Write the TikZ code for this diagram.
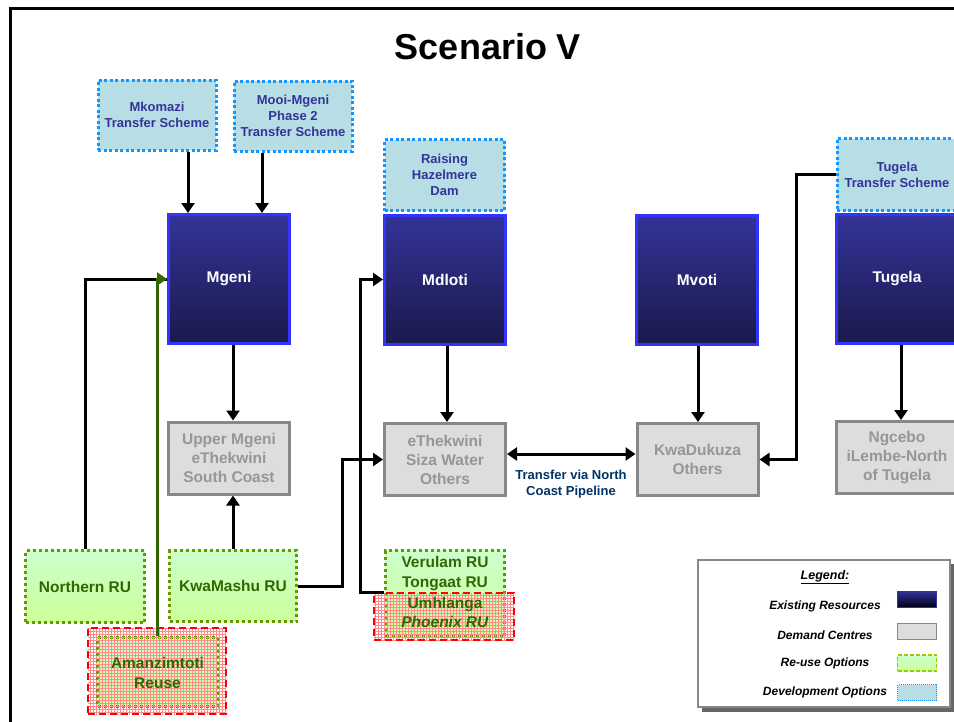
\documentclass[tikz,border=0pt]{standalone}
\usepackage{fontspec}
\setmainfont{Liberation Sans}
\usetikzlibrary{arrows.meta,patterns,calc}
\definecolor{devfill}{RGB}{183,222,228}
\definecolor{devborder}{RGB}{20,150,255}
\definecolor{devtext}{RGB}{51,51,153}
\definecolor{resborder}{RGB}{51,51,255}
\definecolor{restop}{RGB}{51,51,153}
\definecolor{resbot}{RGB}{26,26,77}
\definecolor{demfill}{RGB}{221,221,221}
\definecolor{demborder}{RGB}{136,136,136}
\definecolor{demtext}{RGB}{150,150,150}
\definecolor{retop}{RGB}{204,255,204}
\definecolor{rebot}{RGB}{204,255,153}
\definecolor{reborder}{RGB}{102,153,0}
\definecolor{retext}{RGB}{51,102,0}
\definecolor{greenline}{RGB}{51,102,0}
\definecolor{pinkgrid}{RGB}{255,140,140}
\definecolor{labelblue}{RGB}{0,51,102}
\definecolor{legswre}{RGB}{153,204,0}
\tikzset{
  box/.style={rectangle, inner sep=0pt, align=center},
  devbox/.style={box, draw=devborder, line width=3pt, dash pattern=on 3pt off 2.5pt, fill=devfill, text=devtext, font=\fontsize{13}{16}\selectfont\bfseries, minimum width=118pt, minimum height=70pt},
  resbox/.style={box, draw=resborder, line width=3pt, top color=restop, bottom color=resbot, text=white, font=\fontsize{15.5}{19}\selectfont\bfseries, minimum width=121pt, minimum height=129pt},
  dembox/.style={box, draw=demborder, line width=3pt, fill=demfill, text=demtext, font=\fontsize{15.5}{19}\selectfont\bfseries, minimum width=121pt, minimum height=72pt},
  rebox/.style={box, draw=reborder, line width=3pt, dash pattern=on 3pt off 3pt, top color=retop, bottom color=rebot, text=retext, font=\fontsize{15.5}{19.5}\selectfont\bfseries},
  retxt/.style={box, text=retext, font=\fontsize{15.5}{19.5}\selectfont\bfseries},
  redbox/.style={rectangle, inner sep=0pt, draw=red, line width=2pt, dash pattern=on 7pt off 4pt, pattern=grid, pattern color=pinkgrid},
  conn/.style={line width=3pt, -{Triangle[length=10pt,width=13pt]}},
  legtxt/.style={font=\fontsize{12}{14}\selectfont\bfseries\itshape},
  swatch/.style={rectangle, inner sep=0pt, minimum width=39pt, minimum height=16pt}
}
\begin{document}
\begin{tikzpicture}[x=1pt,y=-1pt]
\useasboundingbox (0,0) rectangle (954,721);
% frame
\draw[line width=3pt] (10,730) -- (10,8.5) -- (960,8.5);
\node[font=\fontsize{36}{40}\selectfont\bfseries] (title) at (488,47) {Scenario V};

% development options
\node[devbox] (mkomazi) at (157,115) {Mkomazi\\Transfer Scheme};
\node[devbox] (mooi) at (293,116) {Mooi-Mgeni\\Phase 2\\Transfer Scheme};
\node[devbox, minimum width=120pt, minimum height=71pt] (hazel) at (444.5,175) {Raising\\Hazelmere\\Dam};
\node[devbox, minimum width=120pt, minimum height=72pt] (tugts) at (897,174.5) {Tugela\\Transfer Scheme};

% existing resources
\node[resbox] (mgeni) at (229,279) {Mgeni};
\node[resbox] (mdloti) at (445,279.5) {Mdloti};
\node[resbox] (mvoti) at (697,279.5) {Mvoti};
\node[resbox] (tugela) at (897,279) {Tugela};

% demand centres
\node[dembox] (upper) at (229,458) {Upper Mgeni\\eThekwini\\South Coast};
\node[dembox] (ethek) at (445,459.5) {eThekwini\\Siza Water\\Others};
\node[dembox] (kwadu) at (697.5,459.5) {KwaDukuza\\Others};
\node[dembox] (ngcebo) at (897,457.5) {Ngcebo\\iLembe-North\\of Tugela};

% re-use options
\node[rebox, minimum width=119pt, minimum height=72pt] (northern) at (85,586.5) {Northern RU};
\node[rebox, minimum width=127pt, minimum height=71pt] (kwamashu) at (233,586) {KwaMashu RU};
\node[rebox, minimum width=119pt, minimum height=86pt] (verulam) at (445,593.5) {};
\node[retxt] (verutxt) at (445,573.5) {Verulam RU\\Tongaat RU};
\node[redbox, minimum width=140pt, minimum height=47pt] (umh) at (444,616.5) {};
\node[retxt] (umhtxt) at (445,612.5) {Umhlanga\\\textit{Phoenix RU}};

\node[redbox, minimum width=138pt, minimum height=86pt] (amred) at (157,671) {};
\node[rebox, minimum width=120pt, minimum height=69pt, postaction={pattern=grid, pattern color=pinkgrid}] (amin) at (157.5,672) {};
\node[retxt] (amtxt) at (157.5,673) {Amanzimtoti\\Reuse};

% connectors
\coordinate (c1) at ($(mkomazi.south)+(31,0)$);
\coordinate (c2) at ($(mooi.south)+(-31,0)$);
\draw[conn] (c1) -- (c1 |- mgeni.north);
\draw[conn] (c2) -- (c2 |- mgeni.north);
\draw[conn] (mgeni.south -| kwamashu.north) -- (upper.north -| kwamashu.north);
\draw[conn] (kwamashu.north) -- (upper.south -| kwamashu.north);
\coordinate (c3) at ($(mdloti.south)+(2,0)$);
\draw[conn] (c3) -- (c3 |- ethek.north);
\coordinate (c5) at ($(mvoti.south)+(1,0)$);
\draw[conn] (c5) -- (c5 |- kwadu.north);
\coordinate (c4) at ($(tugela.south)+(4,0)$);
\draw[conn] (c4) -- (c4 |- ngcebo.north);
\draw[line width=3pt, {Triangle[length=10pt,width=13pt]}-{Triangle[length=10pt,width=13pt]}] ([yshift=5.5pt]ethek.east) -- ([yshift=5.5pt]kwadu.west);
\draw[conn] (tugts.west) -- ++(-39,0) |- (kwadu.east);
\draw[conn] (kwamashu.east) -- ++(44,0) |- (ethek.west);
\draw[conn] (verulam.west |- umh.north) -- ++(-24,0) |- (mdloti.west);
\draw[line width=3pt] (northern.north) |- (mgeni.west);
\draw[conn, draw=greenline, line width=2.5pt] (amin.north) |- (mgeni.west);

\node[font=\fontsize{13}{16.5}\selectfont\bfseries, text=labelblue, align=center] (tlabel) at (571,484) {Transfer via North\\Coast Pipeline};

% legend
\fill[black!60] (702,564) rectangle (954,712);
\node[rectangle, draw=demborder, line width=2pt, fill=white, minimum width=252pt, minimum height=147pt, inner sep=0pt] (legend) at (824,633.5) {};
\node[legtxt, font=\fontsize{12.5}{14}\selectfont\bfseries\itshape] (legtitle) at (825,577) {\underline{Legend:}};
\node[legtxt] (l1) at (825,606) {Existing Resources};
\node[legtxt] (l2) at (825,635) {Demand Centres};
\node[legtxt] (l3) at (825,663) {Re-use Options};
\node[legtxt] (l4) at (825,692) {Development Options};
\node[swatch, draw=restop, line width=1pt, top color=restop, bottom color=black!90!blue] (s1) at (917,599) {};
\node[swatch, draw=demborder, line width=1.5pt, fill=demfill] (s2) at (917,631.5) {};
\node[swatch, draw=legswre, line width=1.2pt, dash pattern=on 4pt off 2pt, top color=retop, bottom color=rebot] (s3) at (917,663) {};
\node[swatch, draw=devborder, line width=1pt, dash pattern=on 1pt off 1pt, fill=devfill] (s4) at (917,692.5) {};
\end{tikzpicture}
\end{document}
